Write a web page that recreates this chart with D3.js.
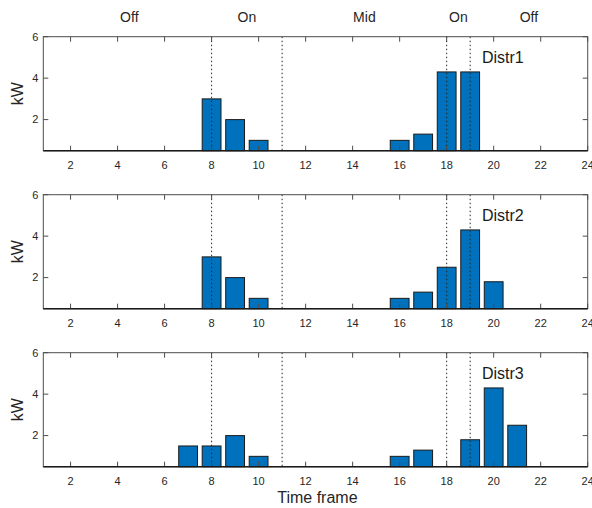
<!DOCTYPE html>
<html>
<head>
<meta charset="utf-8">
<script src="https://cdn.jsdelivr.net/npm/d3@7"></script>
<style>
  html, body { margin: 0; padding: 0; background: #fff; }
  svg { display: block; font-family: "Liberation Sans", Arial, Helvetica, sans-serif; }
</style>
</head>
<body>
<svg id="chart" width="592" height="508"></svg>
<script>
// Hourly load (kW) for three demand distributions
const hours = d3.range(1, 25);
const distr1 = [0,0,0,0,0,0,0,3,2,1,0,0,0,0,0,1,1.3,4.3,4.3,0,0,0,0,0];
const distr2 = [0,0,0,0,0,0,0,3,2,1,0,0,0,0,0,1,1.3,2.5,4.3,1.8,0,0,0,0];
const distr3 = [0,0,0,0,0,0,1.5,1.5,2,1,0,0,0,0,0,1,1.3,0,1.8,4.3,2.5,0,0,0];
const seriesNames = ["Distr1", "Distr2", "Distr3"];
const xTicks = [2,4,6,8,10,12,14,16,18,20,22,24];
const yTicks = [2,4,6];
// Tariff period boundaries and labels
const boundaries = [8, 11, 18, 19];
const periods = [
  { label: "Off", from: 1, to: 8 },
  { label: "On", from: 8, to: 11 },
  { label: "Mid", from: 11, to: 18 },
  { label: "On", from: 18, to: 19 },
  { label: "Off", from: 19, to: 24 }
];

const series = [distr1, distr2, distr3];
const svg = d3.select("#chart");
const axisColor = "#262626";
const left = 43.3, right = 587.7;
const panelTops = [36.7, 194.7, 352.7];
const panelH = 114;

const x = d3.scaleLinear().domain([0.84, 24]).range([left, right]);
const yDomain = [0.5, 6];
const barW = x(1.8) - x(1);

// Period labels across the top
svg.selectAll("text.period").data(periods).join("text")
  .attr("class", "period")
  .attr("x", d => x((d.from + d.to) / 2))
  .attr("y", 17)
  .attr("dy", "0.35em")
  .attr("text-anchor", "middle")
  .attr("font-size", 14)
  .attr("fill", axisColor)
  .text(d => d.label);

series.forEach((vals, i) => {
  const top = panelTops[i];
  const bottom = top + panelH;
  const y = d3.scaleLinear().domain(yDomain).range([bottom, top]);
  const g = svg.append("g");

  // Bars (clipped at the lower axis limit)
  g.selectAll("rect.bar").data(hours).join("rect")
    .attr("class", "bar")
    .attr("x", h => x(h) - barW / 2)
    .attr("width", barW)
    .attr("y", (h, j) => y(Math.max(vals[j], yDomain[0])))
    .attr("height", (h, j) => y(yDomain[0]) - y(Math.max(vals[j], yDomain[0])))
    .attr("fill", "#0072BD")
    .attr("stroke", "#1a1a1a")
    .attr("stroke-width", 1);

  // Dotted boundary lines
  g.selectAll("line.bound").data(boundaries).join("line")
    .attr("class", "bound")
    .attr("x1", d => x(d)).attr("x2", d => x(d))
    .attr("y1", top).attr("y2", bottom)
    .attr("stroke", axisColor)
    .attr("stroke-width", 1)
    .attr("stroke-dasharray", "1.5,2.5");

  // Box
  g.append("rect")
    .attr("x", left).attr("y", top)
    .attr("width", right - left).attr("height", panelH)
    .attr("fill", "none")
    .attr("stroke", "#4d4d4d")
    .attr("stroke-width", 1);

  // Inner ticks on all four sides
  const tl = 5;
  xTicks.forEach(t => {
    g.append("line").attr("x1", x(t)).attr("x2", x(t)).attr("y1", bottom).attr("y2", bottom - tl)
      .attr("stroke", "#4d4d4d");
    g.append("line").attr("x1", x(t)).attr("x2", x(t)).attr("y1", top).attr("y2", top + tl)
      .attr("stroke", "#4d4d4d");
  });
  yTicks.forEach(t => {
    g.append("line").attr("x1", left).attr("x2", left + tl).attr("y1", y(t)).attr("y2", y(t))
      .attr("stroke", "#4d4d4d");
    g.append("line").attr("x1", right).attr("x2", right - tl).attr("y1", y(t)).attr("y2", y(t))
      .attr("stroke", "#4d4d4d");
  });

  // Baseline
  g.append("line").attr("x1", left).attr("x2", right).attr("y1", bottom).attr("y2", bottom)
    .attr("stroke", "#1a1a1a").attr("stroke-width", 1.5);

  // Tick labels
  g.selectAll("text.xt").data(xTicks).join("text")
    .attr("class", "xt")
    .attr("x", d => x(d)).attr("y", bottom + 14)
    .attr("dy", "0.35em")
    .attr("text-anchor", "middle")
    .attr("font-size", 11)
    .attr("fill", axisColor)
    .text(d => d);
  g.selectAll("text.yt").data(yTicks).join("text")
    .attr("class", "yt")
    .attr("x", left - 5).attr("y", d => y(d))
    .attr("dy", "0.35em")
    .attr("text-anchor", "end")
    .attr("font-size", 11)
    .attr("fill", axisColor)
    .text(d => d);

  // Y label
  g.append("text")
    .attr("transform", `translate(17,${(top + bottom) / 2}) rotate(-90)`)
    .attr("dy", "0.35em")
    .attr("text-anchor", "middle")
    .attr("font-size", 16)
    .attr("fill", axisColor)
    .text("kW");

  // Series name
  g.append("text")
    .attr("x", x(19.5))
    .attr("y", top + 20.5)
    .attr("dy", "0.35em")
    .attr("font-size", 16)
    .attr("fill", "#1a1a1a")
    .text(seriesNames[i]);
});

// X label
svg.append("text")
  .attr("x", x(12.5)).attr("y", 497)
  .attr("dy", "0.35em")
  .attr("text-anchor", "middle")
  .attr("font-size", 16)
  .attr("fill", axisColor)
  .text("Time frame");
</script>
</body>
</html>
